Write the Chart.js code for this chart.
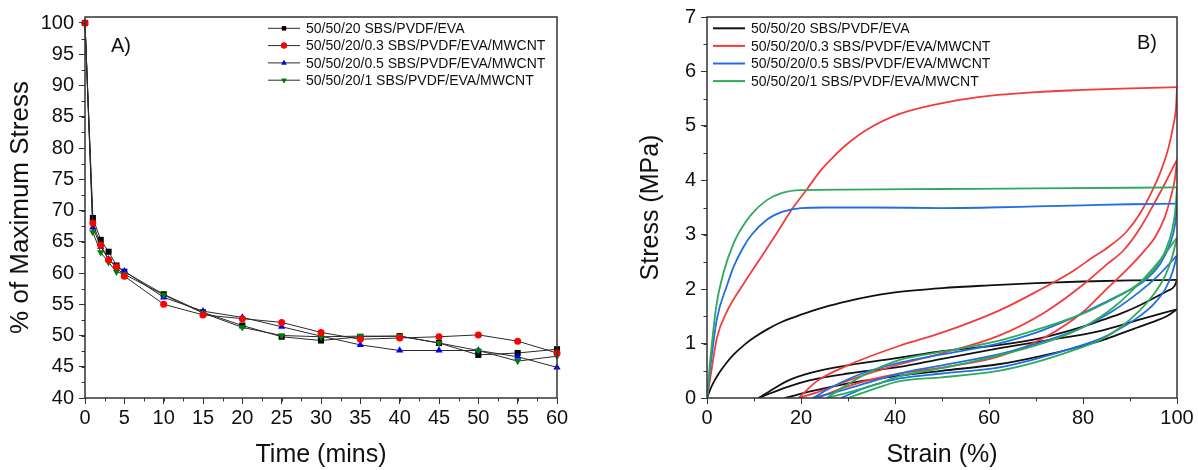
<!DOCTYPE html>
<html lang="en">
<head>
  <meta charset="UTF-8">
  <title>Stress relaxation and hysteresis</title>
  <script src="https://cdn.jsdelivr.net/npm/chart.js"></script>
  <style>
    * { margin: 0; padding: 0; box-sizing: border-box; }
    body { width: 1198px; height: 470px; background: #fff; overflow: hidden; position: relative; }
    .panel { position: absolute; top: 0; height: 470px; }
    #left { left: 0; width: 600px; }
    #right { left: 600px; width: 598px; }
  </style>
</head>
<body>
  <div class="panel" id="left"><canvas id="relaxChart"></canvas></div>
  <div class="panel" id="right"><canvas id="cycleChart"></canvas></div>

  <script>
    // ---- Panel A: stress relaxation ----
    const timeMins = [0, 1, 2, 3, 4, 5, 10, 15, 20, 25, 30, 35, 40, 45, 50, 55, 60];
    const relaxEva   = [100, 68.8, 65.3, 63.4, 61.2, 60.2, 56.6, 53.7, 51.6, 49.8, 49.2, 49.8, 49.9, 48.8, 46.9, 47.2, 47.8];
    const relaxCnt03 = [100, 68.0, 64.5, 62.1, 61.0, 59.5, 55.0, 53.3, 52.7, 52.1, 50.5, 49.4, 49.6, 49.8, 50.1, 49.1, 47.2];
    const relaxCnt05 = [100, 67.3, 64.2, 62.2, 61.0, 60.3, 56.1, 53.9, 52.9, 51.4, 49.9, 48.5, 47.6, 47.6, 47.6, 46.6, 44.9];
    const relaxCnt1  = [100, 66.5, 63.3, 61.7, 60.2, 59.8, 56.5, 53.6, 51.3, 50.0, 49.8, 49.9, 49.9, 48.8, 47.6, 45.9, 46.7];
    const timeTicks = [0, 5, 10, 15, 20, 25, 30, 35, 40, 45, 50, 55, 60];
    const relaxTicks = [40, 45, 50, 55, 60, 65, 70, 75, 80, 85, 90, 95, 100];

    // ---- Panel B: cyclic loading, [strain %, stress MPa] ----
    const evaLoad1 = [[0,0],[1,0.22],[2.5,0.45],[4,0.63],[5.7,0.8],[8,0.98],[10,1.11],[13,1.27],[16,1.4],[20,1.53],[25,1.67],[30,1.78],[35,1.87],[40,1.94],[50,2.02],[60,2.07],[70,2.11],[80,2.14],[90,2.16],[100,2.17]];
    const evaUnload1 = [[100,2.17],[99.5,2.06],[98,1.97],[96.5,1.9],[92,1.7],[88,1.55],[84,1.43],[80,1.31],[71,1.1],[62,0.97],[50,0.86],[41,0.74],[30,0.6],[22,0.46],[17,0.31],[14,0.16],[11,0]];
    const evaLoad2 = [[11,0],[13,0.07],[17,0.2],[22,0.33],[30,0.45],[41,0.57],[50,0.72],[62,0.91],[71,1.04],[84,1.24],[92,1.44],[100,1.63]];
    const evaUnload2 = [[100,1.63],[98,1.51],[94,1.37],[90.8,1.27],[87,1.15],[84,1.06],[80,0.96],[71,0.77],[62,0.62],[50,0.5],[41,0.41],[30,0.27],[22,0.12],[16.5,0]];

    const cnt03Load1 = [[0,0],[0.7,0.37],[2.1,1.1],[4.3,1.6],[7.8,2.1],[12,2.65],[15,3.05],[18,3.46],[21.3,3.84],[24,4.16],[27,4.44],[30,4.68],[34,4.93],[41,5.22],[52,5.45],[60,5.55],[70,5.62],[80,5.66],[90,5.69],[100,5.71]];
    const cnt03Unload1 = [[100,5.71],[99.8,5.35],[99.2,5.0],[98.2,4.6],[96.7,4.2],[94.7,3.8],[92.2,3.4],[89.2,3.05],[85.5,2.78],[82,2.58],[78,2.34],[70,1.95],[62,1.6],[50,1.2],[41,0.96],[30.5,0.62],[23.4,0.31],[19.5,0]];
    const cnt03Load2 = [[19.5,0],[25,0.15],[30,0.32],[41,0.62],[50,0.82],[62,1.14],[72,1.58],[80,2.08],[85,2.45],[88.6,2.71],[92,3.1],[95,3.55],[97.5,3.95],[100,4.38]];
    const cnt03Unload2 = [[100,4.38],[99.6,4.05],[98.7,3.7],[97.3,3.3],[95.3,2.95],[93,2.7],[89,2.33],[85,2.0],[80,1.58],[72,1.12],[62,0.76],[50,0.56],[41,0.45],[30,0.22],[23.5,0]];

    const cnt05Load1 = [[0,0],[0.7,0.56],[2.1,1.45],[4.3,2.08],[5.7,2.42],[7.8,2.78],[9.5,3.0],[12.8,3.28],[16,3.42],[20,3.49],[25,3.5],[35,3.5],[50,3.49],[60,3.5],[70,3.52],[80,3.54],[90,3.56],[100,3.57]];
    const cnt05Unload1 = [[100,3.57],[99.6,3.2],[98.5,2.83],[96.4,2.46],[93,2.15],[88,1.9],[84,1.73],[78,1.48],[70,1.2],[62,1.0],[50,0.8],[41,0.65],[33,0.45],[27,0.22],[22.5,0]];
    const cnt05Load2 = [[22.5,0],[27,0.1],[33,0.25],[41,0.45],[50,0.6],[62,0.8],[72,1.05],[80,1.3],[86,1.58],[92,1.95],[96,2.25],[100,2.62]];
    const cnt05Unload2 = [[100,2.62],[99,2.3],[97.5,2.0],[95,1.72],[92,1.5],[88,1.28],[84,1.1],[78,0.92],[70,0.72],[62,0.56],[50,0.45],[41,0.36],[34,0.2],[28.5,0]];

    const cnt1Load1 = [[0,0],[0.7,0.7],[2,1.7],[3.5,2.3],[5.7,2.85],[7.8,3.18],[9.5,3.38],[12.8,3.64],[16,3.77],[20,3.82],[30,3.83],[50,3.84],[70,3.85],[100,3.87]];
    const cnt1Unload1 = [[100,3.87],[99.7,3.5],[99,3.1],[97.5,2.7],[95,2.35],[91,2.05],[86,1.8],[80,1.55],[70,1.25],[62,1.05],[50,0.85],[41,0.7],[34,0.45],[29,0.2],[25.5,0]];
    const cnt1Load2 = [[25.5,0],[30,0.1],[36,0.25],[41,0.4],[50,0.55],[62,0.78],[72,1.02],[80,1.3],[87,1.7],[93,2.2],[97,2.6],[100,2.95]];
    const cnt1Unload2 = [[100,2.95],[99,2.6],[97.5,2.25],[95,1.9],[92,1.6],[88,1.3],[84,1.08],[78,0.88],[70,0.66],[62,0.5],[50,0.38],[41,0.31],[36,0.18],[30,0]];

    const strainTicks = [0, 20, 40, 60, 80, 100];
    const stressTicks = [0, 1, 2, 3, 4, 5, 6, 7];

    const seriesNames = [
      '50/50/20 SBS/PVDF/EVA',
      '50/50/20/0.3 SBS/PVDF/EVA/MWCNT',
      '50/50/20/0.5 SBS/PVDF/EVA/MWCNT',
      '50/50/20/1 SBS/PVDF/EVA/MWCNT'
    ];

    const FONT = "'Liberation Sans', Arial, sans-serif";
    const AXIS = '#333';
    Chart.defaults.font.family = FONT;
    Chart.defaults.color = '#111';

    // box around the plot, minor ticks, legend and panel letter
    const decorations = {
      id: 'decorations',
      afterDraw(chart, args, o) {
        const { ctx, chartArea: a, scales: { x, y } } = chart;
        ctx.save();
        ctx.strokeStyle = AXIS;
        ctx.lineWidth = 1;
        ctx.beginPath();
        for (let v = x.min; v <= x.max + 1e-6; v += o.xMinor) {
          const px = Math.round(x.getPixelForValue(v)) + 0.5;
          ctx.moveTo(px, a.bottom); ctx.lineTo(px, a.bottom + 3.5);
        }
        for (let v = y.min; v <= y.max + 1e-6; v += o.yMinor) {
          const py = Math.round(y.getPixelForValue(v)) + 0.5;
          ctx.moveTo(a.left, py); ctx.lineTo(a.left - 3.5, py);
        }
        ctx.stroke();
        ctx.lineWidth = 1.5;
        ctx.strokeRect(a.left, a.top, a.right - a.left, a.bottom - a.top);

        // legend
        ctx.font = '14px ' + FONT;
        ctx.textBaseline = 'middle';
        o.legend.forEach((it, i) => {
          const ly = o.legendY + i * o.legendStep;
          ctx.strokeStyle = it.line;
          ctx.lineWidth = o.legendLineWidth;
          ctx.beginPath();
          ctx.moveTo(o.legendX, ly); ctx.lineTo(o.legendX + o.legendLen, ly);
          ctx.stroke();
          if (it.marker) {
            Chart.helpers.drawPoint(ctx, {
              pointStyle: it.marker, radius: 3, rotation: it.rotation || 0, borderWidth: 0
            }, o.legendX + o.legendLen / 2, ly);
            ctx.fillStyle = it.color;
            ctx.fill();
          }
          ctx.fillStyle = '#111';
          ctx.fillText(seriesNames[i], o.legendX + o.legendLen + 6, ly + 1);
        });

        ctx.font = '20px ' + FONT;
        ctx.fillStyle = '#111';
        ctx.fillText(o.letter, o.letterX, o.letterY);
        ctx.restore();
      }
    };

    function axes(xMin, xMax, xTicks, yMin, yMax, yTicks, xTitle, yTitle, yTitleSize, yTitlePad, yWidth) {
      const grid = { drawOnChartArea: false, drawTicks: true, tickLength: 6, tickColor: AXIS, lineWidth: 1 };
      return {
        x: {
          type: 'linear', min: xMin, max: xMax,
          afterBuildTicks: s => { s.ticks = xTicks.map(v => ({ value: v })); },
          afterFit: s => { s.height = 72; },
          grid, border: { display: false },
          ticks: { font: { size: 20 }, color: '#111', padding: 2, maxRotation: 0, autoSkip: false },
          title: { display: true, text: xTitle, font: { size: 25 }, color: '#111', padding: { top: 0, bottom: 0 } }
        },
        y: {
          type: 'linear', min: yMin, max: yMax,
          afterBuildTicks: s => { s.ticks = yTicks.map(v => ({ value: v })); },
          afterFit: s => { s.width = yWidth; },
          grid, border: { display: false },
          ticks: { font: { size: 20 }, color: '#111', padding: 5, autoSkip: false },
          title: { display: true, text: yTitle, font: { size: yTitleSize }, color: '#111', padding: { top: yTitlePad, bottom: 0 } }
        }
      };
    }

    // Panel A
    const toXY = vals => vals.map((v, i) => ({ x: timeMins[i], y: v }));
    const relaxStyle = [
      { data: relaxEva,   color: '#000000', marker: 'rect',     radius: 4.3, order: 3 },
      { data: relaxCnt03, color: '#ff0000', marker: 'circle',   radius: 3.5, order: 0 },
      { data: relaxCnt05, color: '#0000ff', marker: 'triangle', radius: 4.2, order: 2 },
      { data: relaxCnt1,  color: '#008000', marker: 'triangle', radius: 4.2, order: 1, rotation: 180 }
    ];

    new Chart(document.getElementById('relaxChart'), {
      type: 'scatter',
      data: {
        datasets: relaxStyle.map((s, i) => ({
          label: seriesNames[i],
          data: toXY(s.data),
          showLine: true,
          borderColor: '#2a2a2a',
          borderWidth: 1,
          pointStyle: s.marker,
          pointRotation: s.rotation || 0,
          pointRadius: s.radius,
          pointBackgroundColor: s.color,
          pointBorderWidth: 0,
          order: s.order,
          clip: false
        }))
      },
      options: {
        responsive: true,
        maintainAspectRatio: false,
        animation: false,
        layout: { padding: { left: 0, top: 17, right: 43, bottom: 0 } },
        scales: axes(0, 60, timeTicks, 40, 100.96, relaxTicks, 'Time (mins)', '% of Maximum Stress', 26, 5, 85),
        plugins: {
          legend: { display: false },
          tooltip: { enabled: false },
          decorations: {
            xMinor: 2.5, yMinor: 2.5,
            legendX: 268, legendY: 28.3, legendStep: 17.3, legendLen: 32, legendLineWidth: 1,
            legend: relaxStyle.map(s => ({ line: '#2a2a2a', color: s.color, marker: s.marker, rotation: s.rotation })),
            letter: 'A)', letterX: 111, letterY: 46
          }
        }
      },
      plugins: [decorations]
    });

    // Panel B
    const cycleColors = ['#111111', '#f23c3c', '#1f6fe3', '#2fa95c'];
    const cyclePaths = [
      [evaLoad1, evaUnload1, evaLoad2, evaUnload2],
      [cnt03Load1, cnt03Unload1, cnt03Load2, cnt03Unload2],
      [cnt05Load1, cnt05Unload1, cnt05Load2, cnt05Unload2],
      [cnt1Load1, cnt1Unload1, cnt1Load2, cnt1Unload2]
    ];
    const cycleSets = [];
    cyclePaths.forEach((paths, i) => {
      paths.forEach(p => {
        cycleSets.push({
          label: seriesNames[i],
          data: p.map(([x, y]) => ({ x, y })),
          showLine: true,
          borderColor: cycleColors[i],
          borderWidth: 1.8,
          pointRadius: 0,
          cubicInterpolationMode: 'monotone',
          order: 3 - i
        });
      });
    });

    new Chart(document.getElementById('cycleChart'), {
      type: 'scatter',
      data: { datasets: cycleSets },
      options: {
        responsive: true,
        maintainAspectRatio: false,
        animation: false,
        layout: { padding: { left: 0, top: 17, right: 21, bottom: 0 } },
        scales: axes(0, 100, strainTicks, 0, 7, stressTicks, 'Strain (%)', 'Stress (MPa)', 25, 36, 107),
        plugins: {
          legend: { display: false },
          tooltip: { enabled: false },
          decorations: {
            xMinor: 10, yMinor: 0.5,
            legendX: 113, legendY: 28.3, legendStep: 17.6, legendLen: 32, legendLineWidth: 2,
            legend: cycleColors.map(c => ({ line: c })),
            letter: 'B)', letterX: 537, letterY: 43
          }
        }
      },
      plugins: [decorations]
    });
  </script>
</body>
</html>
